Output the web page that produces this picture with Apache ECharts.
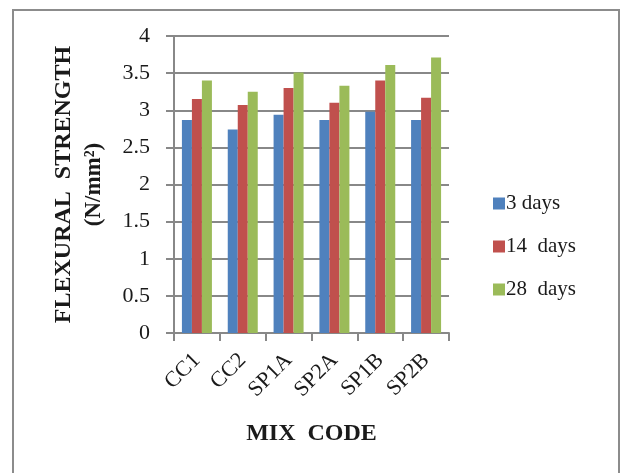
<!DOCTYPE html>
<html>
<head>
<meta charset="utf-8">
<script src="https://cdn.jsdelivr.net/npm/echarts@6/dist/echarts.min.js"></script>
<style>
html,body{margin:0;padding:0;background:#fff;}
#chart{width:622px;height:473px;}
</style>
</head>
<body>
<div id="chart"></div>
<script>
var categories = ['CC1', 'CC2', 'SP1A', 'SP2A', 'SP1B', 'SP2B'];
var days3 = [2.87, 2.74, 2.94, 2.87, 2.98, 2.87];
var days14 = [3.15, 3.07, 3.30, 3.10, 3.40, 3.17];
var days28 = [3.40, 3.25, 3.51, 3.33, 3.61, 3.71];
var seriesNames = ['3 days', '14  days', '28  days'];
var yTicks = [0, 0.5, 1, 1.5, 2, 2.5, 3, 3.5, 4];

var font = 'Liberation Serif';
var chart = echarts.init(document.getElementById('chart'));
chart.setOption({
  animation: false,
  backgroundColor: '#fff',
  graphic: [{
    type: 'rect',
    shape: {x: 13, y: 10, width: 606, height: 480},
    style: {fill: 'none', stroke: '#8c8c8c', lineWidth: 2},
    silent: true
  }],
  grid: {left: 174, right: 173, top: 36, bottom: 140, containLabel: false},
  legend: {
    orient: 'vertical',
    left: 488,
    top: 188,
    itemWidth: 12,
    itemHeight: 12,
    itemGap: 22,
    icon: 'rect',
    textStyle: {fontFamily: font, fontSize: 21, color: '#1a1a1a', padding: [0, 0, 0, -4]},
    data: seriesNames
  },
  xAxis: {
    type: 'category',
    data: categories,
    name: 'MIX  CODE',
    nameLocation: 'middle',
    nameGap: 89,
    nameTextStyle: {fontFamily: font, fontSize: 24, fontWeight: 'bold', color: '#1a1a1a'},
    axisLine: {show: true, lineStyle: {color: '#888', width: 2}},
    axisTick: {show: true, length: 8, alignWithLabel: false, lineStyle: {color: '#888', width: 2}},
    axisLabel: {rotate: 45, margin: 24, fontFamily: font, fontSize: 22, color: '#1a1a1a'}
  },
  yAxis: {
    type: 'value',
    min: 0,
    max: 4,
    interval: 0.5,
    name: '{a|FLEXURAL  STRENGTH}\n{b|(N/mm²)}',
    nameLocation: 'middle',
    nameRotate: 90,
    nameGap: 64,
    nameTextStyle: {
      fontFamily: font, fontWeight: 'bold', color: '#1a1a1a',
      rich: {
        a: {fontFamily: font, fontSize: 24, fontWeight: 'bold', lineHeight: 31, color: '#1a1a1a'},
        b: {fontFamily: font, fontSize: 23, fontWeight: 'bold', lineHeight: 31, color: '#1a1a1a'}
      }
    },
    axisLine: {show: true, lineStyle: {color: '#888', width: 2}},
    axisTick: {show: true, length: 8, lineStyle: {color: '#888', width: 2}},
    axisLabel: {
      margin: 24, fontFamily: font, fontSize: 22, color: '#1a1a1a',
      formatter: function (v) { return yTicks.indexOf(v) >= 0 ? String(v) : ''; }
    },
    splitLine: {show: true, lineStyle: {color: '#888', width: 2}}
  },
  series: [
    {name: seriesNames[0], type: 'bar', data: days3, barWidth: 10, barGap: '0%', itemStyle: {color: '#4F81BD'}},
    {name: seriesNames[1], type: 'bar', data: days14, barWidth: 10, barGap: '0%', itemStyle: {color: '#C0504D'}},
    {name: seriesNames[2], type: 'bar', data: days28, barWidth: 10, barGap: '0%', itemStyle: {color: '#9BBB59'}}
  ]
});
</script>
</body>
</html>
